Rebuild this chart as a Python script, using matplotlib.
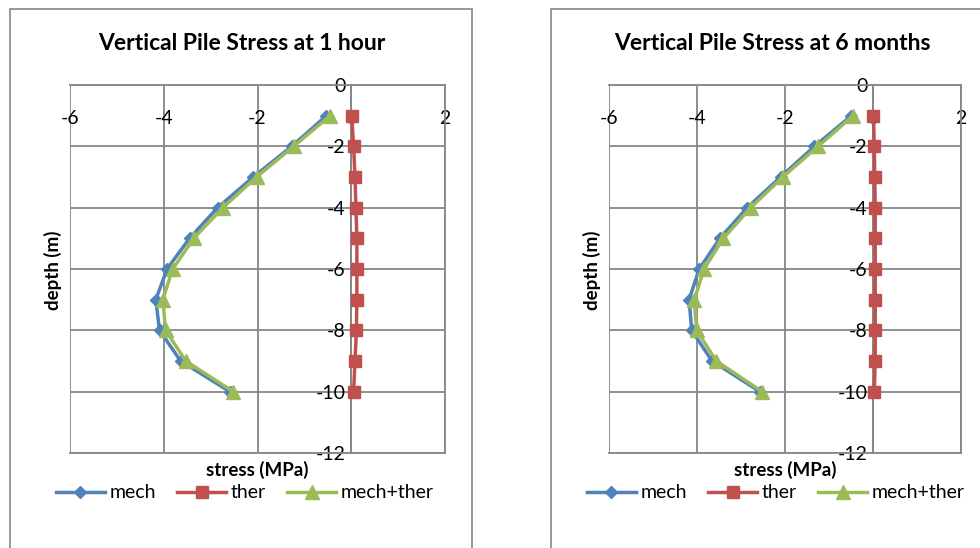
import numpy as np
import matplotlib
matplotlib.use('Agg')
import matplotlib.pyplot as plt
from matplotlib.patches import Rectangle

plt.rcParams['font.family'] = ['Lato', 'DejaVu Sans']

depth = [-1, -2, -3, -4, -5, -6, -7, -8, -9, -10]

# 1 hour
mech_1h = [-0.53, -1.27, -2.09, -2.85, -3.45, -3.93, -4.17, -4.09, -3.64, -2.59]
ther_1h = [0.01, 0.05, 0.08, 0.10, 0.12, 0.12, 0.12, 0.11, 0.08, 0.05]
both_1h = [-0.45, -1.23, -2.02, -2.74, -3.36, -3.81, -4.02, -3.96, -3.53, -2.52]

# 6 months
mech_6m = [-0.49, -1.33, -2.10, -2.86, -3.48, -3.95, -4.18, -4.12, -3.66, -2.57]
ther_6m = [0.01, 0.03, 0.04, 0.05, 0.05, 0.05, 0.05, 0.05, 0.05, 0.03]
both_6m = [-0.45, -1.25, -2.05, -2.78, -3.40, -3.84, -4.06, -4.01, -3.56, -2.52]

titles = ['Vertical Pile Stress at 1 hour', 'Vertical Pile Stress at 6 months']
xticks = [-6, -4, -2, 0, 2]
yticks = [0, -2, -4, -6, -8, -10, -12]

blue = '#4F81BD'
red = '#C0504D'
green = '#9BBB59'
grid_c = '#868686'

W, H = 980, 548
fig = plt.figure(figsize=(9.8, 5.48), dpi=100)

def fx(px):
    return px / W

def fy(py):
    return 1 - py / H

# panel borders
for x0, x1 in [(10, 472), (551, 1000)]:
    fig.patches.append(Rectangle((fx(x0), fy(560)), fx(x1 - x0), (560 - 9) / H,
                                 transform=fig.transFigure, fill=False,
                                 edgecolor='#868686', linewidth=1.2))

panels = [
    dict(rect=(70, 445), title_x=242, leg_x=245, data=(mech_1h, ther_1h, both_1h)),
    dict(rect=(609, 961), title_x=772, leg_x=776, data=(mech_6m, ther_6m, both_6m)),
]

for i, p in enumerate(panels):
    l, r = p['rect']
    ax = fig.add_axes([fx(l), fy(453), fx(r - l), (453 - 85) / H])
    mech, ther, both = p['data']
    ax.plot(mech, depth, color=blue, lw=2.5, marker='D', ms=6, label='mech', zorder=3)
    ax.plot(ther, depth, color=red, lw=2.5, marker='s', ms=9, label='ther', zorder=3)
    ax.plot(both, depth, color=green, lw=2.5, marker='^', ms=10, label='mech+ther', zorder=4)

    ax.set_xlim(-6, 2)
    ax.set_ylim(-12, 0)
    ax.set_xticks(xticks)
    ax.set_yticks(yticks)
    ax.set_xticklabels([str(t) for t in xticks])
    ax.set_yticklabels([str(t) for t in yticks])
    ax.grid(True, color=grid_c, lw=1.3)
    ax.set_axisbelow(True)

    for s in ['top', 'right', 'bottom']:
        ax.spines[s].set_color(grid_c)
        ax.spines[s].set_linewidth(1.3)
    ax.spines['left'].set_position(('data', 0))
    ax.spines['left'].set_color(grid_c)
    ax.spines['left'].set_linewidth(1.3)

    ax.xaxis.set_ticks_position('top')
    ax.tick_params(axis='x', length=0, pad=-30, labelsize=14)
    ax.tick_params(axis='y', length=0, pad=4, labelsize=14)

    fig.text(fx(p['title_x']), fy(43), titles[i], ha='center', va='center',
             fontsize=16.5, fontweight='bold')
    fig.text(fx((l + r) / 2), fy(470), 'stress (MPa)', ha='center', va='center',
             fontsize=13.5, fontweight='bold')
    fig.text(fx(l - 17), fy(270), 'depth (m)', ha='center', va='center',
             fontsize=13.5, fontweight='bold', rotation=90)

    fig.legend(*ax.get_legend_handles_labels(), loc='center',
               bbox_to_anchor=(fx(p['leg_x']), fy(493)), ncol=3, frameon=False,
               fontsize=14, handlelength=2.5, handletextpad=0.25, columnspacing=1.1,
               borderpad=0.2)

fig.savefig('out.png', dpi=100)
